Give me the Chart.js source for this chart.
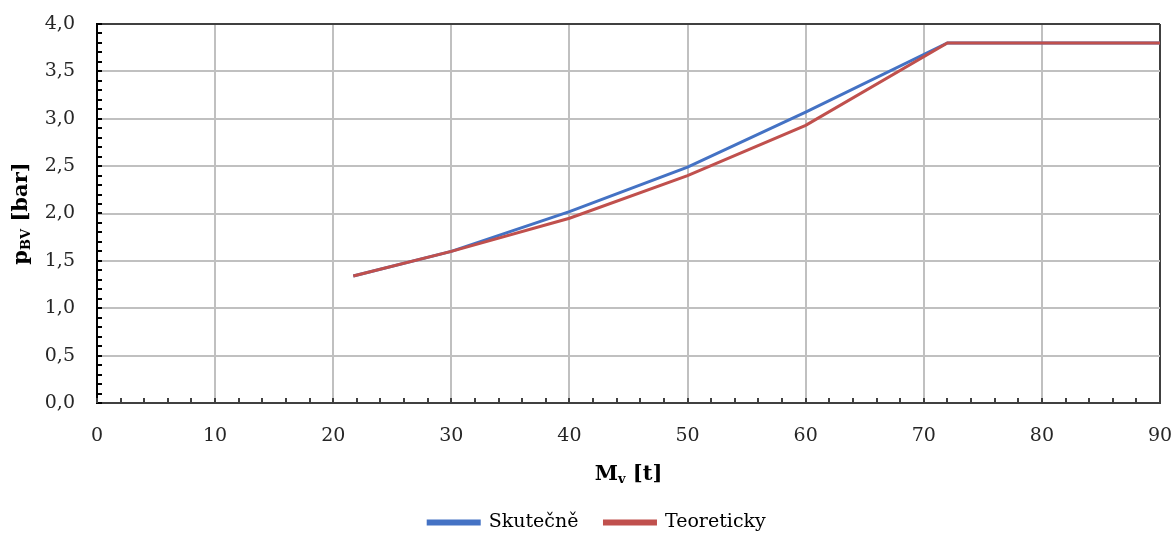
<!DOCTYPE html>
<html lang="cs">
<head>
  <meta charset="UTF-8">
  <title>p_BV vs M_v</title>
  <script src="https://cdn.jsdelivr.net/npm/chart.js@4.4.2/dist/chart.umd.min.js"></script>
  <style>
    body { margin: 0; padding: 0; background: #fff; }
    #wrap { width: 1176px; height: 533px; }
  </style>
</head>
<body>
  <div id="wrap"><canvas id="graf"></canvas></div>

  <script>
    // hodnoty
    const mvSkutecne = [21.7, 30, 40, 50, 60, 72, 90];
    const pSkutecne  = [1.34, 1.60, 2.02, 2.49, 3.07, 3.80, 3.80];
    const mvTeor     = [21.7, 30, 40, 50, 60, 72, 90];
    const pTeor      = [1.34, 1.60, 1.95, 2.40, 2.93, 3.80, 3.80];

    const xTicks = [0, 10, 20, 30, 40, 50, 60, 70, 80, 90];
    const yTicks = [0, 0.5, 1, 1.5, 2, 2.5, 3, 3.5, 4];

    const FONT = "'DejaVu Serif', 'Liberation Serif', serif";
    const MODRA = '#4472C4';
    const CERVENA = '#C0504D';

    const body = (xs, ys) => xs.map((x, i) => ({ x: x, y: ys[i] }));

    // vedlejší čárky na osách + popisky os s indexy
    const osyPlugin = {
      id: 'osy',
      afterLayout(chart) {
        // legenda je v originálu trochu vpravo od středu
        if (chart.legend) {
          chart.legend.left += 17;
          chart.legend.right += 17;
        }
      },
      afterDraw(chart) {
        const ctx = chart.ctx;
        const a = chart.chartArea;
        const sx = chart.scales.x, sy = chart.scales.y;
        ctx.save();
        ctx.lineWidth = 2;
        ctx.strokeStyle = '#000';
        for (let v = 0; v <= 4.0001; v += 0.1) {
          const py = Math.round(sy.getPixelForValue(v));
          ctx.beginPath();
          ctx.moveTo(a.left, py);
          ctx.lineTo(a.left + 5, py);
          ctx.stroke();
        }
        ctx.strokeStyle = '#404040';
        for (let v = 0; v <= 90; v += 2) {
          const px = Math.round(sx.getPixelForValue(v));
          ctx.beginPath();
          ctx.moveTo(px, a.bottom);
          ctx.lineTo(px, a.bottom - 5);
          ctx.stroke();
        }

        ctx.fillStyle = '#000';
        ctx.textBaseline = 'middle';
        const kusy = (parts) => {
          let w = 0;
          parts.forEach(p => { ctx.font = p.f; w += ctx.measureText(p.t).width; });
          return w;
        };
        const kresli = (parts, x0, y0) => {
          let x = x0;
          parts.forEach(p => {
            ctx.font = p.f;
            ctx.textAlign = 'left';
            ctx.fillText(p.t, x, y0 + p.dy);
            x += ctx.measureText(p.t).width;
          });
        };
        const velky = 'bold 21px ' + FONT;
        const maly = 'bold 13px ' + FONT;
        // osa x: M_v [t]
        const xParts = [
          { t: 'M', f: velky, dy: 0 },
          { t: 'v', f: maly, dy: 5 },
          { t: ' [t]', f: velky, dy: 0 }
        ];
        const wx = kusy(xParts);
        kresli(xParts, (a.left + a.right) / 2 - wx / 2, a.bottom + 72);

        // osa y: p_BV [bar]
        const yParts = [
          { t: 'p', f: velky, dy: 0 },
          { t: 'BV', f: maly, dy: 5 },
          { t: ' [bar]', f: velky, dy: 0 }
        ];
        const wy = kusy(yParts);
        ctx.translate(22, (a.top + a.bottom) / 2);
        ctx.rotate(-Math.PI / 2);
        kresli(yParts, -wy / 2, 0);
        ctx.restore();
      }
    };

    new Chart(document.getElementById('graf'), {
      type: 'line',
      data: {
        datasets: [
          {
            label: 'Skutečně',
            data: body(mvSkutecne, pSkutecne),
            borderColor: MODRA,
            backgroundColor: MODRA,
            borderWidth: 3,
            pointRadius: 0,
            tension: 0,
            order: 2
          },
          {
            label: 'Teoreticky',
            data: body(mvTeor, pTeor),
            borderColor: CERVENA,
            backgroundColor: CERVENA,
            borderWidth: 3,
            pointRadius: 0,
            tension: 0,
            order: 1
          }
        ]
      },
      options: {
        responsive: true,
        maintainAspectRatio: false,
        animation: false,
        layout: { padding: { top: 24, right: 16, left: 0, bottom: -9 } },
        plugins: {
          tooltip: { enabled: false },
          legend: {
            position: 'bottom',
            labels: {
              color: '#000',
              font: { family: FONT, size: 19 },
              boxWidth: 51,
              boxHeight: 3,
              padding: 26,
              sort: (a, b) => a.datasetIndex - b.datasetIndex
            }
          }
        },
        scales: {
          x: {
            type: 'linear',
            min: 0,
            max: 90,
            afterBuildTicks: s => { s.ticks = xTicks.map(v => ({ value: v })); },
            afterFit: s => { s.height = 84; s.paddingLeft = 0; s.paddingRight = 0; },
            ticks: {
              color: '#262626',
              font: { family: FONT, size: 19 },
              padding: 22,
              maxRotation: 0
            },
            grid: {
              drawTicks: false,
              lineWidth: 2,
              color: c => (c.tick && c.tick.value === 90) ? '#404040' : '#c0c0c0'
            },
            border: { color: '#404040', width: 2 }
          },
          y: {
            min: 0,
            max: 4,
            afterBuildTicks: s => { s.ticks = yTicks.map(v => ({ value: v })); },
            afterFit: s => { s.width = 97; s.paddingTop = 0; s.paddingBottom = 0; },
            ticks: {
              color: '#262626',
              font: { family: FONT, size: 19 },
              padding: 22,
              callback: v => v.toFixed(1).replace('.', ',')
            },
            grid: {
              drawTicks: false,
              lineWidth: 2,
              color: c => (c.tick && c.tick.value === 4) ? '#404040' : '#c0c0c0'
            },
            border: { color: '#000', width: 2 }
          }
        }
      },
      plugins: [osyPlugin]
    });
  </script>
</body>
</html>
